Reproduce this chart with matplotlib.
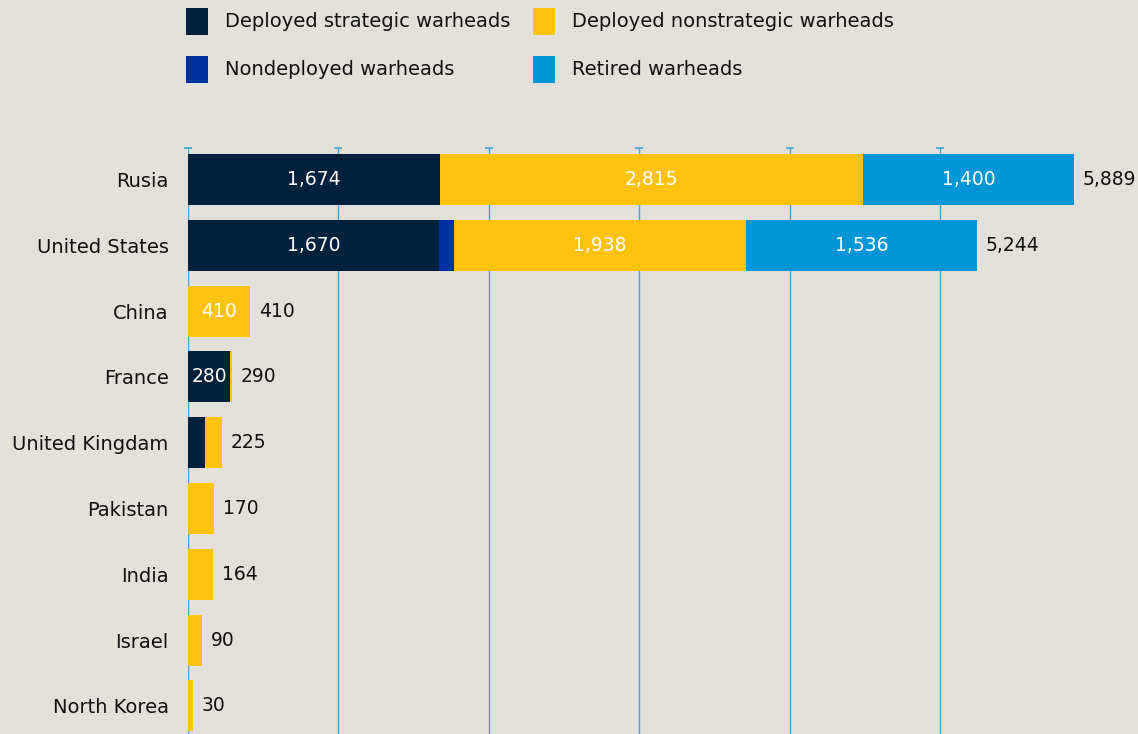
import matplotlib
matplotlib.use("Agg")
import matplotlib.pyplot as plt
from matplotlib.patches import Rectangle
import numpy as np

countries = ["Rusia", "United States", "China", "France", "United Kingdam",
             "Pakistan", "India", "Israel", "North Korea"]
series_names = ["Deployed strategic warheads", "Nondeployed warheads",
                "Deployed nonstrategic warheads", "Retired warheads"]
strategic = [1674, 1670, 0, 280, 113, 0, 0, 0, 0]
nondeployed = [0, 100, 0, 0, 0, 0, 0, 0, 0]
nonstrategic = [2815, 1938, 410, 10, 112, 170, 164, 90, 30]
retired = [1400, 1536, 0, 0, 0, 0, 0, 0, 0]
totals = [5889, 5244, 410, 290, 225, 170, 164, 90, 30]

colors = ["#00213D", "#0030A0", "#FFC20E", "#0096D8"]
bg = "#E3E0DA"
grid_c = "#3FA6DC"

plt.rcParams['font.family'] = ['DejaVu Sans']
FS = 14
FSN = 13.5

W, H = 1138, 734
fig = plt.figure(figsize=(W / 100, H / 100), dpi=100, facecolor=bg)
ax_left = 188 / W
ax_top = 148 / H
ax = fig.add_axes([ax_left, 0, 1 - ax_left, 1 - ax_top])
ax.set_facecolor(bg)

y = np.arange(len(countries))
row_px = 65.8
xmax = (W - 188) / 0.15045
ax.set_xlim(0, xmax)
ax.set_ylim(8 + 28 / row_px, -31.5 / row_px)

# gridlines
for gx in range(0, 6000, 1000):
    ax.axvline(gx, color=grid_c, lw=1.0, zorder=0)
    ax.plot([gx], [-31.5 / row_px], marker='_', ms=6, mew=1.2, color=grid_c,
            clip_on=False, zorder=0)

data = [strategic, nondeployed, nonstrategic, retired]
left = np.zeros(len(countries))
bh = 51 / row_px
for vals, col in zip(data, colors):
    vals = np.array(vals, dtype=float)
    ax.barh(y, vals, left=left, height=bh, color=col, zorder=2, linewidth=0)
    for i, v in enumerate(vals):
        if v >= 250:
            ax.text(left[i] + v / 2, y[i], f"{int(v):,}", ha='center', va='center',
                    color='white', fontsize=FSN, zorder=3)
    left += vals

for i, t in enumerate(totals):
    ax.annotate(f"{t:,}", xy=(t, y[i]), xytext=(9, 0), textcoords='offset pixels',
                ha='left', va='center', fontsize=FSN, color='#111111')

ax.set_yticks(y)
ax.set_yticklabels(countries, fontsize=FS, color='#111111')
ax.tick_params(axis='y', length=0, pad=14)
ax.set_xticks([])
for s in ax.spines.values():
    s.set_visible(False)

# legend (manual)
leg_order = [0, 2, 1, 3]
pos = [(186, 8), (533, 8), (186, 56), (533, 56)]
for k, (px, py) in zip(leg_order, pos):
    fig.patches.append(Rectangle((px / W, 1 - (py + 27) / H), 22 / W, 27 / H,
                                 transform=fig.transFigure, color=colors[k], lw=0))
    fig.text((px + 39) / W, 1 - (py + 13.5) / H, series_names[k], ha='left', va='center',
             fontsize=FS, color='#111111')

fig.savefig("out.png", dpi=100, facecolor=bg)
